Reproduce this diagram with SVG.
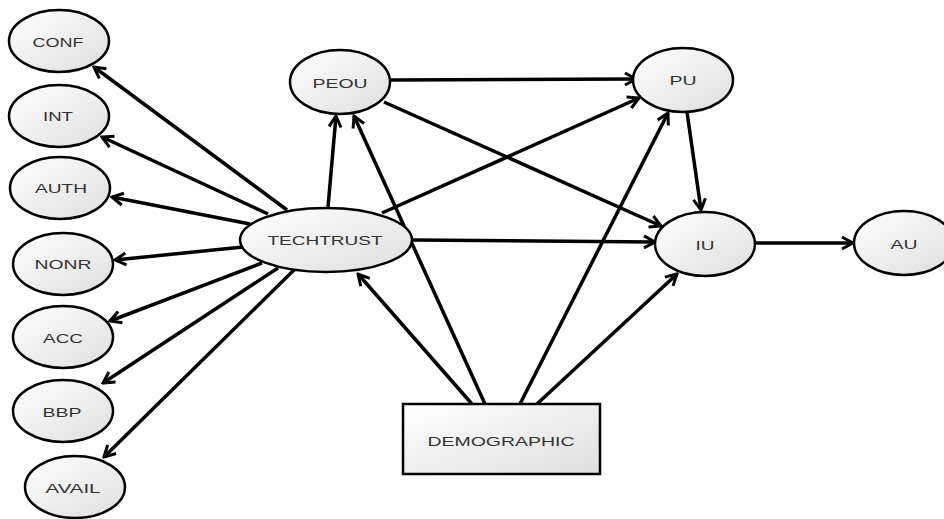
<svg xmlns="http://www.w3.org/2000/svg" width="944" height="519" viewBox="0 0 944 519">
<defs>
<linearGradient id="g" x1="0" y1="0" x2="1" y2="1">
<stop offset="0" stop-color="#ffffff"/>
<stop offset="1" stop-color="#dedede"/>
</linearGradient>
<marker id="arr" viewBox="0 0 16 16" refX="14" refY="8" markerWidth="16" markerHeight="16" orient="auto" markerUnits="userSpaceOnUse">
<path d="M3,2 L14,8 L3,14" fill="none" stroke="#000" stroke-width="3" stroke-linejoin="miter"/>
</marker>
</defs>
<style>
.n{fill:url(#g);stroke:#000;stroke-width:2.5}
.t{font-family:"Liberation Sans",Arial,sans-serif;font-size:13.5px;fill:#333;text-anchor:middle;dominant-baseline:central}
.c line{stroke:#000;stroke-width:3.5;marker-end:url(#arr)}
</style>
<rect width="944" height="519" fill="#fff"/>
<g class="c" id="connectors">
<line x1="287" y1="210" x2="94" y2="67"/>
<line x1="268" y1="214" x2="102" y2="137"/>
<line x1="250" y1="224" x2="112" y2="197"/>
<line x1="243" y1="247" x2="115" y2="260"/>
<line x1="262" y1="263" x2="110" y2="321"/>
<line x1="278" y1="268" x2="103" y2="383"/>
<line x1="295" y1="269" x2="104" y2="457"/>
<line x1="328" y1="207" x2="336" y2="116"/>
<line x1="485" y1="404" x2="354" y2="116"/>
<line x1="382" y1="213" x2="639" y2="98"/>
<line x1="390" y1="80" x2="636" y2="79"/>
<line x1="384" y1="102" x2="661" y2="226"/>
<line x1="413" y1="240" x2="655" y2="242"/>
<line x1="687" y1="112" x2="701" y2="210"/>
<line x1="755" y1="243" x2="853" y2="243"/>
<line x1="472" y1="404" x2="358" y2="274"/>
<line x1="520" y1="404" x2="668" y2="113"/>
<line x1="537" y1="404" x2="677" y2="274"/>
</g>
<g id="CONF"><ellipse class="n" cx="59" cy="41" rx="50" ry="31"/><text class="t" x="58" y="42" textLength="51" lengthAdjust="spacingAndGlyphs">CONF</text></g>
<g id="INT"><ellipse class="n" cx="59" cy="116" rx="50" ry="31"/><text class="t" x="58" y="116" textLength="30" lengthAdjust="spacingAndGlyphs">INT</text></g>
<g id="AUTH"><ellipse class="n" cx="60" cy="188" rx="50" ry="31"/><text class="t" x="61" y="188" textLength="52" lengthAdjust="spacingAndGlyphs">AUTH</text></g>
<g id="NONR"><ellipse class="n" cx="63" cy="264" rx="50" ry="31"/><text class="t" x="63" y="264" textLength="57" lengthAdjust="spacingAndGlyphs">NONR</text></g>
<g id="ACC"><ellipse class="n" cx="63" cy="337" rx="50" ry="31"/><text class="t" x="63" y="338" textLength="40" lengthAdjust="spacingAndGlyphs">ACC</text></g>
<g id="BBP"><ellipse class="n" cx="63" cy="411" rx="50" ry="31"/><text class="t" x="62" y="412" textLength="39" lengthAdjust="spacingAndGlyphs">BBP</text></g>
<g id="AVAIL"><ellipse class="n" cx="75" cy="487" rx="50" ry="31"/><text class="t" x="73" y="488" textLength="55" lengthAdjust="spacingAndGlyphs">AVAIL</text></g>
<g id="PEOU"><ellipse class="n" cx="340" cy="82" rx="50" ry="32"/><text class="t" x="340" y="83" textLength="55" lengthAdjust="spacingAndGlyphs">PEOU</text></g>
<g id="TECHTRUST"><ellipse class="n" cx="326" cy="240" rx="86" ry="32"/><text class="t" x="325" y="240" textLength="115" lengthAdjust="spacingAndGlyphs">TECHTRUST</text></g>
<g id="PU"><ellipse class="n" cx="683" cy="80" rx="50" ry="32"/><text class="t" x="683" y="80" textLength="27" lengthAdjust="spacingAndGlyphs">PU</text></g>
<g id="IU"><ellipse class="n" cx="705" cy="244" rx="50" ry="32"/><text class="t" x="705" y="245" textLength="19" lengthAdjust="spacingAndGlyphs">IU</text></g>
<g id="AU"><ellipse class="n" cx="904" cy="243" rx="50" ry="32"/><text class="t" x="904" y="244" textLength="27" lengthAdjust="spacingAndGlyphs">AU</text></g>
<g id="DEMOGRAPHIC"><rect class="n" x="403" y="404" width="197" height="70"/><text class="t" x="501" y="441" textLength="147" lengthAdjust="spacingAndGlyphs">DEMOGRAPHIC</text></g>
</svg>
